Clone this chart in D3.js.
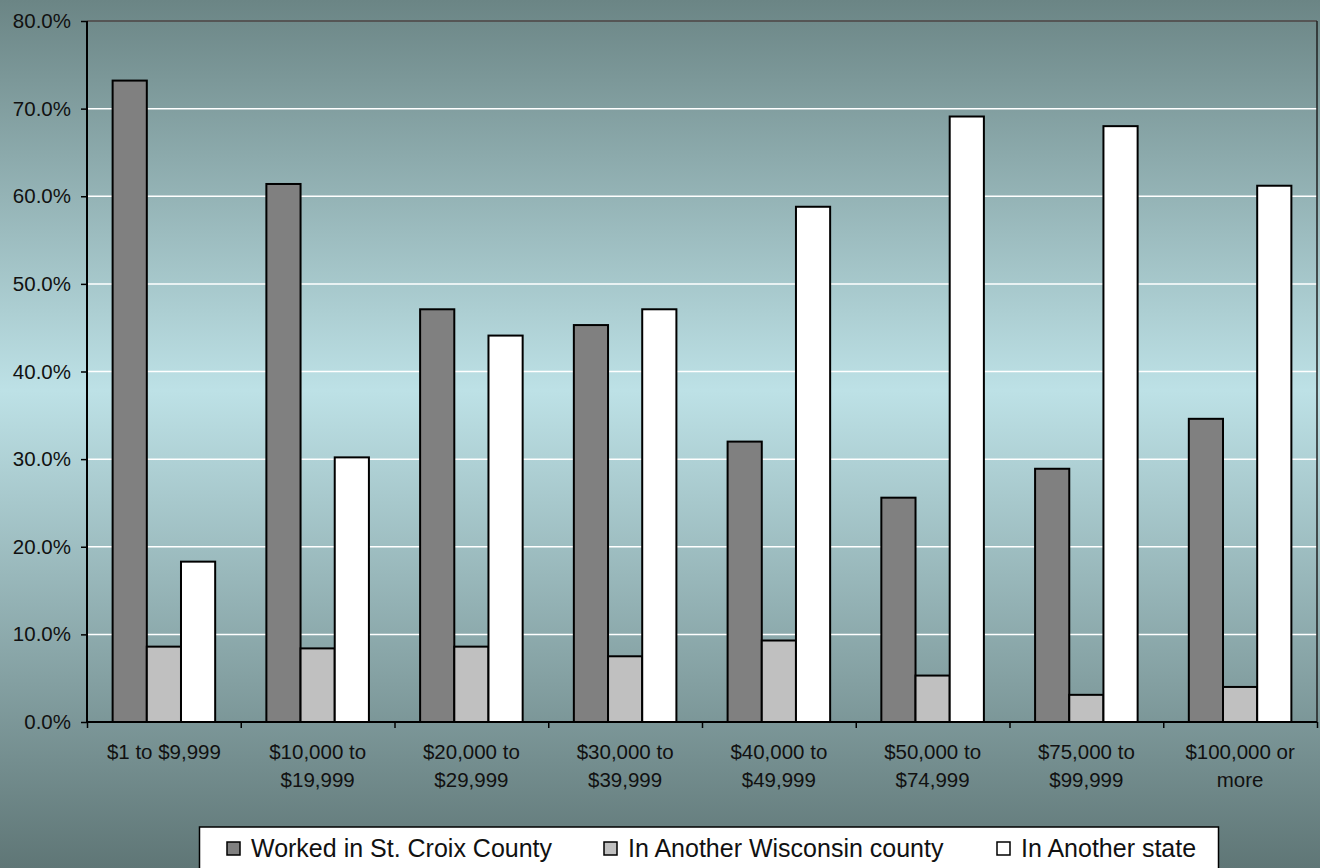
<!DOCTYPE html>
<html>
<head>
<meta charset="utf-8">
<script src="https://cdn.jsdelivr.net/npm/d3@7"></script>
<style>
  html, body { margin: 0; padding: 0; }
  body { width: 1320px; height: 868px; overflow: hidden; }
  svg text { font-family: "Liberation Sans", Arial, sans-serif; fill: #111; }
</style>
</head>
<body>
<svg id="chart" width="1320" height="868"></svg>
<script>
const categories = [
  ["$1 to $9,999"],
  ["$10,000 to", "$19,999"],
  ["$20,000 to", "$29,999"],
  ["$30,000 to", "$39,999"],
  ["$40,000 to", "$49,999"],
  ["$50,000 to", "$74,999"],
  ["$75,000 to", "$99,999"],
  ["$100,000 or", "more"]
];
const seriesNames = ["Worked in St. Croix County", "In Another Wisconsin county", "In Another state"];
const stCroix   = [73.2, 61.4, 47.1, 45.3, 32.0, 25.6, 28.9, 34.6];
const otherWI   = [8.6, 8.4, 8.6, 7.5, 9.3, 5.3, 3.1, 4.0];
const otherState = [18.3, 30.2, 44.1, 47.1, 58.8, 69.1, 68.0, 61.2];
const yTicks = [0, 10, 20, 30, 40, 50, 60, 70, 80];
const colors = ["#808080", "#c0c0c0", "#ffffff"];

(function () {
const series = [stCroix, otherWI, otherState];
const svg = d3.select("#chart");

// background gradient
const defs = svg.append("defs");
const grad = defs.append("linearGradient").attr("id", "bg").attr("x1", 0).attr("y1", 0).attr("x2", 0).attr("y2", 1);
grad.append("stop").attr("offset", "0%").attr("stop-color", "#6b8585");
grad.append("stop").attr("offset", "45%").attr("stop-color", "#bde1e6");
grad.append("stop").attr("offset", "100%").attr("stop-color", "#5f7676");
svg.append("rect").attr("width", 1320).attr("height", 868).attr("fill", "url(#bg)");

const pL = 87, pR = 1317, pT = 21, pB = 722;
const x0 = d3.scaleBand().domain(d3.range(categories.length)).range([pL, pR]).paddingInner(0.333).paddingOuter(0.1667);
const x1 = d3.scaleBand().domain(d3.range(series.length)).range([0, x0.bandwidth()]);
const y = d3.scaleLinear().domain([0, 80]).range([pB, pT]);

// gridlines
svg.append("g").selectAll("line").data(yTicks.filter(t => t > 0 && t < 80)).join("line")
  .attr("x1", pL).attr("x2", pR)
  .attr("y1", d => y(d)).attr("y2", d => y(d))
  .attr("stroke", "#ffffff").attr("stroke-width", 1.5);

// plot border top and right
svg.append("line").attr("x1", pL).attr("x2", pR).attr("y1", y(80)).attr("y2", y(80))
  .attr("stroke", "#555").attr("stroke-width", 2);
svg.append("line").attr("x1", pR).attr("x2", pR).attr("y1", y(80)).attr("y2", pB)
  .attr("stroke", "#222").attr("stroke-width", 1.5);

// bars
const groups = svg.append("g").selectAll("g").data(categories).join("g")
  .attr("transform", (d, i) => `translate(${x0(i)},0)`);
groups.selectAll("rect").data((d, i) => series.map((s, k) => ({k, v: s[i]}))).join("rect")
  .attr("x", d => x1(d.k))
  .attr("y", d => y(d.v))
  .attr("width", x1.bandwidth())
  .attr("height", d => pB - y(d.v))
  .attr("fill", d => colors[d.k])
  .attr("stroke", "#000").attr("stroke-width", 2);

// y axis
const yAxis = d3.axisLeft(y).tickValues(yTicks).tickSize(6).tickPadding(10).tickFormat(d => d.toFixed(1) + "%");
const yg = svg.append("g").attr("transform", `translate(${pL},0)`).call(yAxis);
yg.select(".domain").attr("stroke", "#000").attr("stroke-width", 2).attr("d", `M0,${pT}V${pB}`);
yg.selectAll(".tick line").attr("stroke", "#000").attr("stroke-width", 1.5);
yg.selectAll(".tick text").attr("font-size", "20.5px").attr("font-family", "Liberation Sans, Arial, sans-serif").attr("fill", "#111");

// x axis
const xb = d3.scaleLinear().domain([0, categories.length]).range([pL, pR]);
const xAxis = d3.axisBottom(xb).tickValues(d3.range(categories.length + 1)).tickSize(6).tickFormat("");
const xg = svg.append("g").attr("transform", `translate(0,${pB})`).call(xAxis);
xg.select(".domain").attr("stroke", "#000").attr("stroke-width", 2).attr("d", `M${pL},0H${pR}`);
xg.selectAll(".tick line").attr("stroke", "#000").attr("stroke-width", 1.5);

// category labels
const labels = svg.append("g").selectAll("text").data(categories).join("text")
  .attr("x", (d, i) => x0(i) + x0.bandwidth() / 2)
  .attr("y", 759)
  .attr("text-anchor", "middle")
  .attr("font-size", "20.5px");
labels.selectAll("tspan").data(d => d).join("tspan")
  .attr("x", function() { return d3.select(this.parentNode).attr("x"); })
  .attr("dy", (d, j) => j === 0 ? 0 : 28)
  .text(d => d);

// legend
const lg = svg.append("g");
lg.append("rect").attr("x", 199.5).attr("y", 827).attr("width", 1019).attr("height", 50)
  .attr("fill", "#fff").attr("stroke", "#000").attr("stroke-width", 1.5);
const legendX = [227, 604, 997];
seriesNames.forEach((name, k) => {
  lg.append("rect").attr("x", legendX[k]).attr("y", 842).attr("width", 13).attr("height", 13)
    .attr("fill", colors[k]).attr("stroke", "#000").attr("stroke-width", 1.5);
  lg.append("text").attr("x", legendX[k] + 24).attr("y", 857)
    .attr("font-size", "25px").text(name);
});
})();
</script>
</body>
</html>
